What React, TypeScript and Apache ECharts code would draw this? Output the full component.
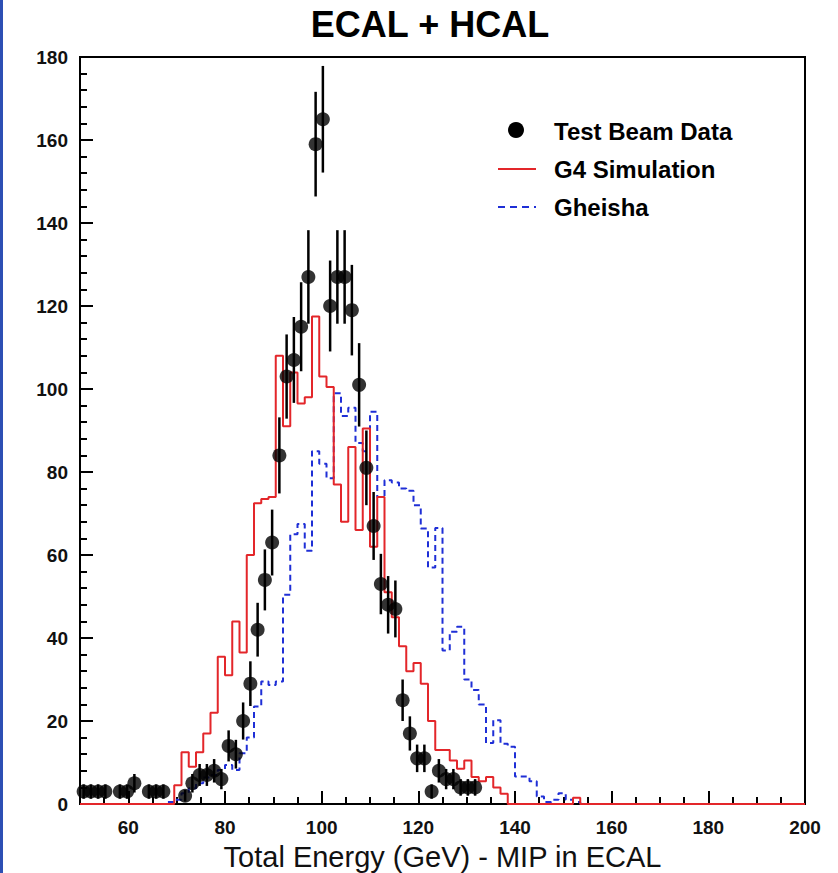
import React, { useEffect, useRef } from "react";
import * as echarts from "echarts";

// Histogram binning: 100 bins of 1.5 GeV from 50 to 200 GeV
const BIN_START = 50;
const BIN_WIDTH = 1.5;

// G4 Simulation (red solid histogram), counts per bin
const g4Simulation = [
  0, 0, 0, 0, 0, 0, 0, 0, 0, 0,
  0, 0, 0, 4.5, 12.5, 9, 12.5, 17, 22, 35.5,
  31, 44, 36.5, 60, 72.5, 73.5, 74, 108, 91, 104,
  96.5, 98, 117.5, 103, 100.5, 77, 68, 86, 66, 90.5,
  62, 74, 51, 45, 38, 32, 34, 29, 20, 13,
  13, 10.5, 8.5, 10.5, 6.5, 5.5, 6.5, 4, 2.5, 0,
  0, 0, 0, 0, 0, 0, 0, 0, 1.5, 0,
  0, 0, 0, 0, 0, 0, 0, 0, 0, 0,
  0, 0, 0, 0, 0, 0, 0, 0, 0, 0,
  0, 0, 0, 0, 0, 0, 0, 0, 0, 0,
];

// Gheisha (blue dashed histogram), counts per bin
const gheisha = [
  0, 0, 0, 0, 0, 0, 0, 0, 0, 0,
  0, 0, 0.5, 1, 2.6, 3.8, 5, 6.4, 7, 8.2,
  9.4, 8.2, 12.2, 16, 23.5, 29.5, 28.7, 29.5, 50.4, 65,
  67.5, 61, 85, 82, 78.5, 99, 93.5, 95.5, 87, 85,
  94.5, 74, 78, 77.5, 76, 75.5, 72, 66.4, 57, 66.5,
  37, 41.5, 42.7, 30, 27.5, 24, 14.7, 20.2, 14.5, 13.8,
  6.6, 6.6, 5.5, 1.8, 0.5, 1, 2.6, 1, 0.5, 0,
  0, 0, 0, 0, 0, 0, 0, 0, 0, 0,
  0, 0, 0, 0, 0, 0, 0, 0, 0, 0,
  0, 0, 0, 0, 0, 0, 0, 0, 0, 0,
];

// Test Beam Data (black points with sqrt(N) error bars), counts per bin
const testBeam = [
  3, 3, 3, 3, 0, 3, 3, 5, 0, 3,
  3, 3, 0, 0, 2, 5, 7, 7, 8, 6,
  14, 12, 20, 29, 42, 54, 63, 84, 103, 107,
  115, 127, 159, 165, 120, 127, 127, 119, 101, 81,
  67, 53, 48, 47, 25, 17, 11, 11, 3, 8,
  6, 6, 4, 4, 4, 0, 0, 0, 0, 0,
  0, 0, 0, 0, 0, 0, 0, 0, 0, 0,
  0, 0, 0, 0, 0, 0, 0, 0, 0, 0,
  0, 0, 0, 0, 0, 0, 0, 0, 0, 0,
  0, 0, 0, 0, 0, 0, 0, 0, 0, 0,
];

const xMajorTicks = [60, 80, 100, 120, 140, 160, 180, 200];
const yTickLabels = [0, 20, 40, 60, 80, 100, 120, 140, 160, 180];

const TITLE = "ECAL + HCAL";
const X_NAME = "Total Energy (GeV) - MIP in ECAL";
const LEGEND = ["Test Beam Data", "G4 Simulation", "Gheisha"];

const FONT = "'Liberation Sans', Arial, Helvetica, sans-serif";

function stepData(counts: number[]) {
  const pts: number[][] = counts.map((v, k) => [BIN_START + k * BIN_WIDTH, v]);
  pts.push([BIN_START + counts.length * BIN_WIDTH, counts[counts.length - 1]]);
  return pts;
}

export default function App() {
  const ref = useRef<HTMLDivElement>(null);

  useEffect(() => {
    if (!ref.current) return;
    const chart = echarts.init(ref.current, null, { renderer: "svg" });

    const points = testBeam
      .map((v, k) => [BIN_START + (k + 0.5) * BIN_WIDTH, v])
      .filter((p) => p[1] > 0);
    const errData = points.map((p) => [p[0], p[1], Math.sqrt(p[1])]);

    const legendText = (text: string, y: number) => ({
      type: "text",
      x: 554,
      y,
      style: {
        text,
        fontSize: 24,
        fontWeight: "bold",
        fontFamily: FONT,
        fill: "#000",
        align: "left",
        verticalAlign: "middle",
        textAlign: "left",
        textVerticalAlign: "middle",
      },
    });

    const option: any = {
      animation: false,
      backgroundColor: "#ffffff",
      textStyle: { fontFamily: FONT },
      grid: {
        left: 80,
        top: 57,
        width: 725,
        height: 747,
        show: true,
        borderColor: "#000",
        borderWidth: 2,
        backgroundColor: "transparent",
        containLabel: false,
        outerBoundsMode: "none",
      },
      xAxis: [
        {
          type: "value",
          min: 50,
          max: 200,
          position: "bottom",
          axisLine: { show: true, onZero: false, lineStyle: { color: "#000", width: 2 } },
          axisTick: {
            show: true,
            inside: true,
            length: 13,
            customValues: xMajorTicks,
            lineStyle: { color: "#000", width: 2 },
          },
          axisLabel: {
            show: true,
            customValues: xMajorTicks,
            fontSize: 19,
            fontWeight: "bold",
            color: "#111",
            margin: 14,
            fontFamily: FONT,
          },
          splitLine: { show: false },
          name: X_NAME,
          nameLocation: "middle",
          nameGap: 26,
          nameTextStyle: { fontSize: 29, lineHeight: 30, color: "#111", fontFamily: FONT },
        },
        {
          type: "value",
          min: 50,
          max: 200,
          interval: 5,
          position: "bottom",
          axisLine: { show: false, onZero: false },
          axisTick: { show: true, inside: true, length: 7, lineStyle: { color: "#000", width: 2 } },
          axisLabel: { show: false },
          splitLine: { show: false },
        },
      ],
      yAxis: {
        type: "value",
        min: 0,
        max: 180,
        interval: 20,
        axisLine: { show: true, onZero: false, lineStyle: { color: "#000", width: 2 } },
        axisTick: { show: true, inside: true, length: 13, lineStyle: { color: "#000", width: 2 } },
        minorTick: { show: true, splitNumber: 5, length: 7, lineStyle: { color: "#000", width: 2 } },
        axisLabel: {
          fontSize: 19,
          fontWeight: "bold",
          color: "#111",
          margin: 12,
          fontFamily: FONT,
          customValues: yTickLabels,
        },
        splitLine: { show: false },
        minorSplitLine: { show: false },
      },
      series: [
        {
          name: LEGEND[2],
          type: "line",
          xAxisIndex: 0,
          step: "end",
          data: stepData(gheisha),
          symbol: "none",
          lineStyle: { color: "#1f2fd6", width: 2, type: [6, 4] },
          z: 2,
        },
        {
          name: LEGEND[1],
          type: "line",
          xAxisIndex: 0,
          step: "end",
          data: stepData(g4Simulation),
          symbol: "none",
          lineStyle: { color: "#e3262a", width: 2 },
          z: 3,
        },
        {
          name: LEGEND[0] + " errors",
          type: "custom",
          xAxisIndex: 0,
          data: errData,
          encode: { x: 0, y: [1] },
          renderItem: (params: any, api: any) => {
            const x = api.value(0);
            const y = api.value(1);
            const e = api.value(2);
            const p1 = api.coord([x, Math.max(0, y - e)]);
            const p2 = api.coord([x, y + e]);
            return {
              type: "line",
              shape: { x1: p1[0], y1: p1[1], x2: p2[0], y2: p2[1] },
              style: { stroke: "#000", lineWidth: 2.5 },
            };
          },
          z: 4,
        },
        {
          name: LEGEND[0],
          type: "scatter",
          xAxisIndex: 0,
          data: points,
          symbol: "circle",
          symbolSize: 14,
          itemStyle: { color: "#000" },
          z: 5,
        },
      ],
      graphic: [
        {
          type: "rect",
          left: 0,
          top: 0,
          shape: { x: 0, y: 0, width: 3, height: 873 },
          style: { fill: "#2d4fb4" },
        },
        {
          type: "text",
          x: 430,
          y: 24,
          style: {
            text: TITLE,
            fontSize: 36,
            fontWeight: "bold",
            fontFamily: FONT,
            fill: "#000",
            align: "center",
            verticalAlign: "middle",
            textAlign: "center",
            textVerticalAlign: "middle",
          },
        },
        {
          type: "circle",
          shape: { cx: 516, cy: 130, r: 8 },
          style: { fill: "#000" },
        },
        legendText(LEGEND[0], 131),
        {
          type: "line",
          shape: { x1: 498, y1: 169, x2: 536, y2: 169 },
          style: { stroke: "#e3262a", lineWidth: 2 },
        },
        legendText(LEGEND[1], 169),
        {
          type: "line",
          shape: { x1: 498, y1: 207, x2: 536, y2: 207 },
          style: { stroke: "#1f2fd6", lineWidth: 2, lineDash: [7, 5] },
        },
        legendText(LEGEND[2], 207),
      ],
    };

    chart.setOption(option);
    return () => {
      chart.dispose();
    };
  }, []);

  return (
    <div
      ref={ref}
      style={{ position: "fixed", left: 0, top: 0, width: 838, height: 873, background: "#fff" }}
    />
  );
}
